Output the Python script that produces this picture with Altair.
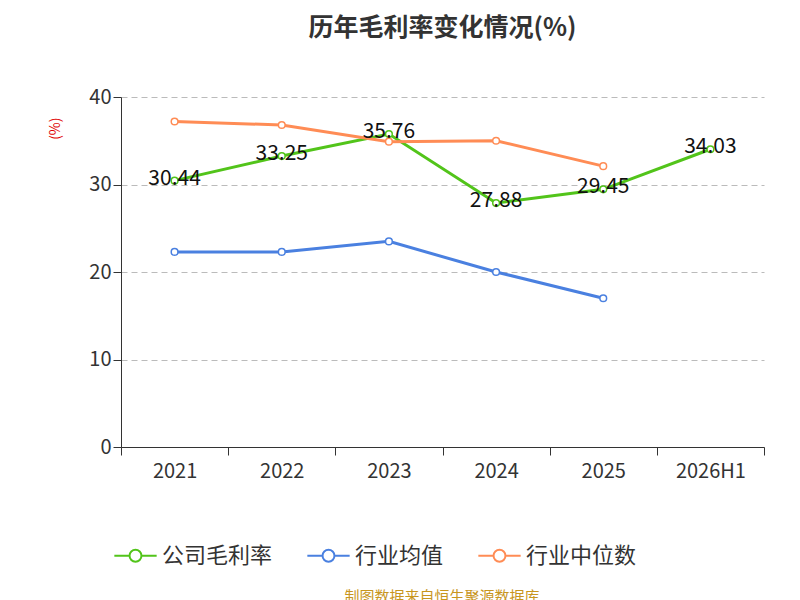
import altair as alt
import pandas as pd

years = ["2021", "2022", "2023", "2024", "2025", "2026H1"]
company = [30.44, 33.25, 35.76, 27.88, 29.45, 34.03]
industry_avg = [22.3, 22.3, 23.5, 20.0, 17.0]
industry_median = [37.2, 36.8, 34.9, 35.0, 32.1]

series = ["公司毛利率", "行业均值", "行业中位数"]
colors = ["#52c41a", "#4a80e0", "#ff8c55"]
source = "制图数据来自恒生聚源数据库"

rows = []
for y, v in zip(years, company):
    rows.append({"year": y, "value": v, "series": series[0]})
for y, v in zip(years, industry_avg):
    rows.append({"year": y, "value": v, "series": series[1]})
for y, v in zip(years, industry_median):
    rows.append({"year": y, "value": v, "series": series[2]})
df = pd.DataFrame(rows)
df["label"] = df["value"].map(lambda v: f"{v:.2f}")

font = "Noto Sans CJK SC"
legend_symbol = "M-1.6,0L-0.45,0M0.45,0L1.6,0M0.45,0A0.45,0.45 0 1 1 -0.45,0A0.45,0.45 0 1 1 0.45,0"

x = alt.X("year:N", sort=years, title=None,
          scale=alt.Scale(domain=years, paddingInner=0, paddingOuter=0),
          axis=alt.Axis(labelAngle=0, labelFontSize=20, labelColor="#333", tickBand="extent",
                        domainColor="#333", tickColor="#333", tickSize=8, labelPadding=6,
                        labelFontWeight="normal"))
y = alt.Y("value:Q", title="(%)",
          scale=alt.Scale(domain=[0, 40]),
          axis=alt.Axis(values=[0, 10, 20, 30, 40], labelFontSize=20, labelColor="#333",
                        gridDash=[6, 4], gridColor="#bbb", domain=True, domainColor="#333",
                        tickColor="#333", tickSize=8, titleColor="#e00000", titleFontSize=14,
                        titleFontWeight="normal", titleAngle=270, titleAlign="right",
                        titleY=20, titlePadding=26))
color = alt.Color("series:N", sort=series,
                  scale=alt.Scale(domain=series, range=colors),
                  legend=alt.Legend(title=None, orient="bottom", direction="horizontal",
                                    labelFontSize=22, labelColor="#333", symbolType=legend_symbol,
                                    symbolSize=700, symbolStrokeWidth=2, symbolFillColor="white",
                                    columnPadding=30, offset=60, labelOffset=12))

base = alt.Chart(df).encode(x=x, y=y, color=color)
lines = base.mark_line(strokeWidth=3)
points = base.mark_point(filled=False, fill="white", size=45, strokeWidth=1.5, opacity=1)
labels = alt.Chart(df[df["series"] == series[0]]).mark_text(
    fontSize=21, color="#111", font=font, dy=-2
).encode(x=alt.X("year:N", sort=years), y="value:Q", text="label:N")
note = alt.Chart(pd.DataFrame({"t": [source]})).mark_text(
    fontSize=15, color="#c8961e", font=font
).encode(text="t:N", x=alt.value(321), y=alt.value(500))

chart = alt.layer(lines, points, labels, note).properties(
    width=643, height=350,
    title=alt.TitleParams("历年毛利率变化情况(%)", fontSize=25, fontWeight="bold", color="#333",
                          offset=46, anchor="middle"),
    padding={"left": 40, "top": 8, "right": 25, "bottom": 5}
).configure(font=font).configure_view(stroke=None)

chart.save("out.html", embed_options={"renderer": "svg", "actions": False})
